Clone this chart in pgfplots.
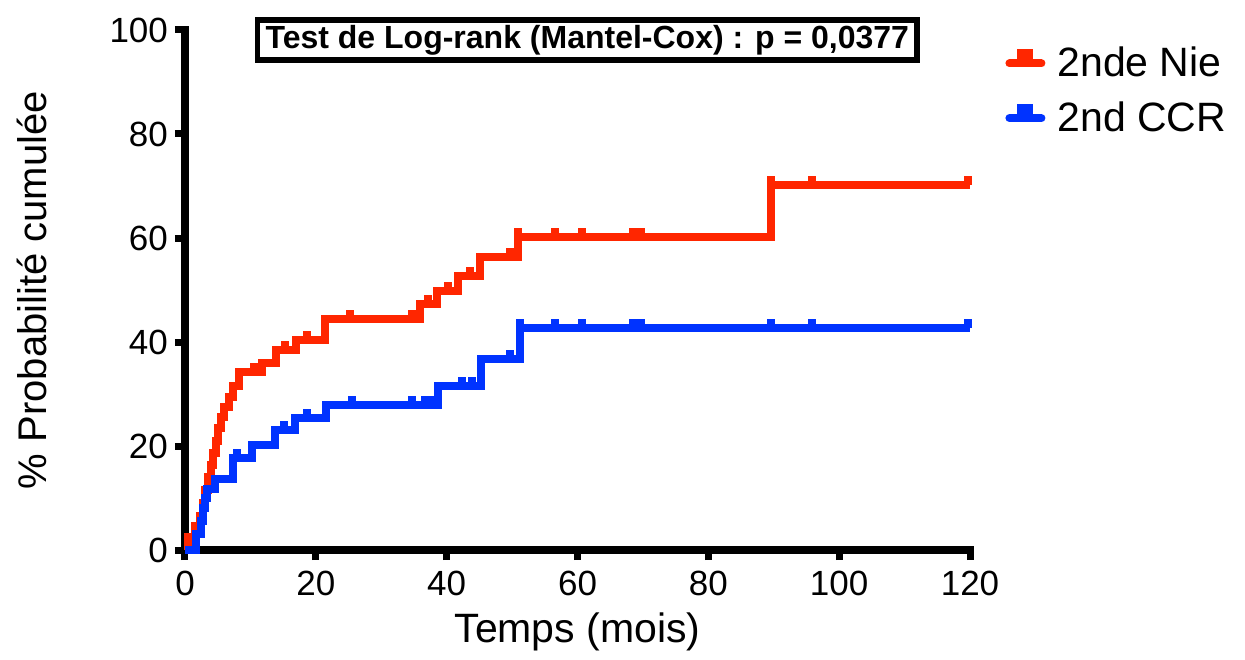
\documentclass[border=0pt]{standalone}
\usepackage{fontspec}
\setmainfont{Liberation Sans}
\usepackage{pgfplots}
\pgfplotsset{compat=1.18}
\usetikzlibrary{shadows}
\definecolor{nie}{RGB}{255,38,0}
\definecolor{ccr}{RGB}{0,51,255}
\pgfdeclareplotmark{censor}{\pgfpathrectangle{\pgfpoint{-2pt}{0pt}}{\pgfpoint{4pt}{4.5pt}}\pgfusepathqfill}

\pgfplotstableread{
x y
0 0
0.5 2.5
1.5 4.6
2.3 6.5
2.8 9
3.1 11.5
3.5 14
3.9 16.3
4.3 18.7
4.7 21
5.0 23.5
5.5 25.5
6.0 27.5
6.8 29.5
7.3 31.5
8.2 34.2
11.8 36
13.9 38.5
17.0 40.4
21.4 44.5
35.9 47.3
38.5 49.8
41.7 52.7
45.1 56.3
50.9 60.2
89.6 70.2
120 70.2
}\nie

\pgfplotstableread{
x y
0 0
1.7 3
2.4 5.5
2.8 8
3.1 10
3.4 11.7
4.6 13.6
7.3 17.7
10.3 20.2
13.8 23
16.8 25.4
21.5 27.8
38.6 31.5
45.3 36.7
51.2 42.7
120 42.7
}\ccr

\pgfplotstableread{
x y
10.5 34.2
15.3 38.5
18.7 40.4
25.2 44.5
34.7 44.5
37.2 47.3
40.2 49.8
43.5 52.7
49.7 56.3
50.9 60.2
56.5 60.2
60.7 60.2
68.5 60.2
69.7 60.2
89.6 70.2
95.9 70.2
119.7 70.2
}\niecens

\pgfplotstableread{
x y
8.0 17.7
15.2 23
18.6 25.4
25.5 27.8
34.7 27.8
36.7 27.8
37.9 27.8
42.3 31.5
43.9 31.5
49.7 36.7
51.2 42.7
56.5 42.7
60.7 42.7
68.5 42.7
69.7 42.7
89.6 42.7
95.9 42.7
119.7 42.7
}\ccrcens

\begin{document}
\begin{tikzpicture}
\path[use as bounding box] (-92.5pt,-54.5pt) rectangle (530pt,275pt);
\begin{axis}[
  scale only axis, width=392.5pt, height=260pt,
  xmin=0, xmax=120, ymin=0, ymax=100,
  axis x line=bottom, axis y line=left,
  axis line style={line width=3.75pt, -, line cap=rect},
  xtick={0,20,...,120}, ytick={0,20,...,100},
  tick align=outside, major tick length=5pt,
  tick style={line width=3.5pt, black},
  ticklabel style={font=\fontsize{17.5}{18}\selectfont},
  xticklabel style={yshift=-2pt},
  /pgf/number format/assume math mode=true,
  xlabel={Temps (mois)}, ylabel={\% Probabilité cumulée},
  every axis x label/.style={at={(axis description cs:0.5,-0.158)}, anchor=center, font=\fontsize{20.5}{22}\selectfont},
  every axis y label/.style={at={(axis description cs:-0.195,0.5)}, rotate=90, anchor=center, font=\fontsize{20}{22}\selectfont},
  clip=false,
  legend style={at={(1.0446,0.883)}, anchor=west, draw=none, fill=none, inner sep=0pt,
    font=\fontsize{20.5}{22}\selectfont, row sep=9pt,
    nodes={inner sep=1pt}},
  legend cell align=left,
  /tikz/every odd column/.append style={column sep=5pt},
]
\addplot[nie, line width=4pt, const plot, mark=none,
  legend image code/.code={\draw[nie,line width=4pt,line cap=round] (2pt,0pt)--(18pt,0pt); \fill[nie] (8pt,0pt) rectangle (12pt,5pt);}]
  table[x=x,y=y] {\nie};
\addlegendentry{2nde Nie}
\addplot[ccr, line width=4pt, const plot, mark=none,
  legend image code/.code={\draw[ccr,line width=4pt,line cap=round] (2pt,0pt)--(18pt,0pt); \fill[ccr] (8pt,0pt) rectangle (12pt,5pt);}]
  table[x=x,y=y] {\ccr};
\addlegendentry{2nd CCR}
\addplot[nie, only marks, mark=censor, forget plot] table[x=x,y=y] {\niecens};
\addplot[ccr, only marks, mark=censor, forget plot] table[x=x,y=y] {\ccrcens};
\node[draw=black, line width=2.75pt, fill=white, inner xsep=4pt, inner ysep=2.2pt,
  text height=12pt, text depth=3.5pt,
  drop shadow={shadow xshift=1.5pt, shadow yshift=-1.5pt, fill=gray!70, opacity=0.8},
  font=\bfseries\fontsize{16}{16}\selectfont] at (axis cs:61.5,98.1)
  {Test de Log-rank (Mantel-Cox) : p = 0,0377};
\end{axis}
\end{tikzpicture}
\end{document}
